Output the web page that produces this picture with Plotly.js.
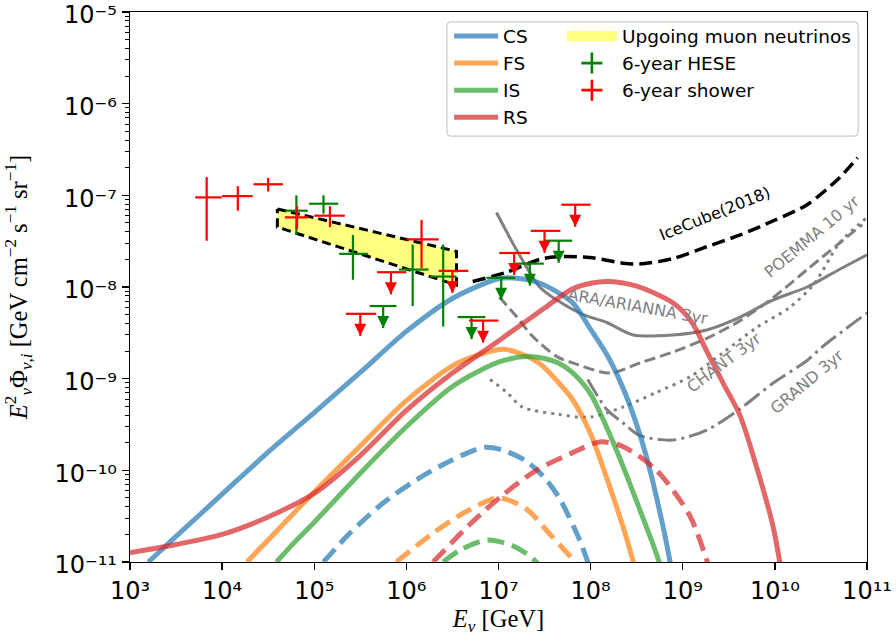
<!DOCTYPE html>
<html><head><meta charset="utf-8">
<script src="https://cdn.plot.ly/plotly-3.0.1.min.js"></script>
<style>body{margin:0;background:#fff}#chart{width:896px;height:642px}</style>
</head><body><div id="chart"></div>
<script>
// ---------- model curves (E in GeV, E^2 Phi in GeV cm^-2 s^-1 sr^-1) ----------
const csE    = [1.58e3, 3.16e3, 1e4, 3.16e4, 1e5, 3.16e5, 1e6, 3.16e6, 1e7, 1.585e7, 2.82e7, 6.31e7, 1e8, 1.585e8, 2.51e8, 3.98e8, 6.31e8, 7.4e8, 1e9];
const csFlux = [1.0e-11, 1.9e-11, 5.5e-11, 1.58e-10, 4.27e-10, 1.17e-9, 3.28e-9, 7.5e-9, 1.23e-8, 1.245e-8, 1.1e-8, 6.8e-9, 3.45e-9, 1.66e-9, 6.0e-10, 1.48e-10, 2.1e-11, 9.3e-12, 2e-12];

const fsE    = [1.86e4, 3.16e4, 1e5, 3.16e5, 1e6, 3.16e6, 6.31e6, 1.12e7, 1.78e7, 2.82e7, 4.47e7, 6.31e7, 1e8, 1.48e8, 2.24e8, 2.82e8, 3.16e8];
const fsFlux = [1e-11, 1.74e-11, 5.8e-11, 1.84e-10, 5.75e-10, 1.38e-9, 1.84e-9, 2.09e-9, 1.86e-9, 1.45e-9, 9.1e-10, 6.0e-10, 2.5e-10, 8.5e-11, 2.45e-11, 1.12e-11, 7.1e-12];

const isE    = [3.89e4, 6.31e4, 1e5, 3.16e5, 1e6, 3.16e6, 6.31e6, 1.12e7, 2.0e7, 3.16e7, 4.47e7, 6.31e7, 1e8, 1.48e8, 2.24e8, 3.39e8, 5.01e8, 5.62e8, 6.31e8];
const isFlux = [1e-11, 1.7e-11, 2.72e-11, 9.3e-11, 2.99e-10, 8.2e-10, 1.23e-9, 1.57e-9, 1.74e-9, 1.66e-9, 1.48e-9, 1.17e-9, 6.8e-10, 3.0e-10, 1.12e-10, 3.8e-11, 1.35e-11, 9.5e-12, 6.3e-12];

const rsE    = [1e3, 3.16e3, 1e4, 3.16e4, 1e5, 3.16e5, 1e6, 3.16e6, 1e7, 3.16e7, 6.31e7, 1e8, 1.585e8, 3.16e8, 7.94e8, 1.26e9, 1.82e9, 2.75e9, 4.17e9, 6.31e9, 9.55e9, 1.12e10, 1.26e10];
const rsFlux = [1.26e-11, 1.55e-11, 2.0e-11, 3.1e-11, 5.6e-11, 1.45e-10, 4.5e-10, 1.15e-9, 2.58e-9, 5.9e-9, 9.5e-9, 1.1e-8, 1.15e-8, 1.02e-8, 6.65e-9, 4.1e-9, 2.0e-9, 8.9e-10, 4.0e-10, 1.1e-10, 2.45e-11, 1.05e-11, 5e-12];

const csDashE    = [1.26e5, 2.44e5, 5.6e5, 1.29e6, 2.95e6, 6.9e6, 1.12e7, 2.0e7, 3.16e7, 4.57e7, 7.6e7, 9.3e7, 1.12e8];
const csDashFlux = [1e-11, 2.07e-11, 4.4e-11, 7.9e-11, 1.26e-10, 1.78e-10, 1.66e-10, 1.26e-10, 8.3e-11, 5.0e-11, 1.74e-11, 1e-11, 5.6e-12];
const fsDashE    = [7.8e5, 1.95e6, 4.47e6, 1e7, 2.0e7, 3.63e7, 6.76e7, 7.94e7];
const fsDashFlux = [1e-11, 2.07e-11, 3.55e-11, 5.0e-11, 3.8e-11, 2.0e-11, 1e-11, 7.9e-12];
const isDashE    = [2.51e6, 3.98e6, 7.6e6, 1.41e7, 2.09e7, 2.57e7, 3.16e7];
const isDashFlux = [1e-11, 1.38e-11, 1.74e-11, 1.51e-11, 1.2e-11, 1e-11, 7.9e-12];
const rsDashE    = [1.95e6, 5.0e6, 1.12e7, 2.57e7, 6.3e7, 1.26e8, 2.24e8, 5.2e8, 1.2e9, 1.82e9, 2.0e9];
const rsDashFlux = [1e-11, 2.63e-11, 5.4e-11, 1e-10, 1.55e-10, 2.04e-10, 1.82e-10, 1.0e-10, 3.16e-11, 1.05e-11, 7.9e-12];

// ---------- sensitivities ----------
const icE    = [5.25e6, 1.23e7, 2.8e7, 4.3e7, 9.8e7, 2.24e8, 3.4e8, 7.8e8, 1.82e9, 4.2e9, 9.5e9, 2.24e10, 5.0e10, 7.9e10];
const icFlux = [1.15e-8, 1.45e-8, 2.0e-8, 2.14e-8, 2.1e-8, 1.82e-8, 1.78e-8, 2.04e-8, 2.75e-8, 3.7e-8, 5.25e-8, 7.9e-8, 1.55e-7, 2.57e-7];
const araE    = [9.5e6, 1.585e7, 2.8e7, 4.3e7, 8.3e7, 1.5e8, 2.9e8, 7.8e8, 1.82e9, 4.2e9, 9.5e9, 2.24e10, 5.0e10, 1e11];
const araFlux = [6.5e-8, 2.5e-8, 1e-8, 7.2e-9, 5.0e-9, 4.1e-9, 3.0e-9, 3.0e-9, 3.4e-9, 4.7e-9, 7.2e-9, 1e-8, 1.55e-8, 2.24e-8];
const poemmaE    = [1.02e7, 1.585e7, 2.34e7, 4.3e7, 6.5e7, 1.62e8, 3.4e8, 7.8e8, 1.82e9, 4.2e9, 9.5e9, 2.24e10, 5.0e10, 8.9e10];
const poemmaFlux = [7.8e-9, 4.7e-9, 2.9e-9, 1.74e-9, 1.48e-9, 1.15e-9, 1.48e-9, 1.95e-9, 2.75e-9, 4.3e-9, 7.6e-9, 1.55e-8, 3.0e-8, 4.8e-8];
const chantE    = [8.1e6, 1.23e7, 1.82e7, 4.3e7, 9.8e7, 2.24e8, 5.2e8, 1.2e9, 2.7e9, 6.3e9, 1.45e10, 2.7e10, 5.0e10, 1e11];
const chantFlux = [9.8e-10, 7.1e-10, 4.9e-10, 4.1e-10, 3.8e-10, 4.9e-10, 7.1e-10, 1.05e-9, 1.9e-9, 3.6e-9, 6.0e-9, 1.1e-8, 3.0e-8, 5.75e-8];
const grandE    = [9.3e7, 1.5e8, 2.24e8, 3.4e8, 7.8e8, 1.82e9, 4.2e9, 9.5e9, 2.24e10, 3.3e10, 1e11];
const grandFlux = [9.8e-10, 4.6e-10, 3.3e-10, 2.4e-10, 2.14e-10, 2.75e-10, 4.7e-10, 8.9e-10, 1.58e-9, 2.24e-9, 5.2e-9];

// upgoing muon neutrino band (closed polygon)
const bandE    = [3.98e4, 3.5e6, 3.5e6, 3.98e4, 3.98e4];
const bandFlux = [7.1e-8, 2.45e-8, 1.05e-8, 4.5e-8, 7.1e-8];

// ---------- 6-year HESE (green) ----------
const heseE    = [6.4e4, 1.26e5, 2.63e5, 1.17e6, 2.51e6];
const heseElo  = [4.79e4, 8.8e4, 1.86e5, 8.3e5, 1.8e6];
const heseEhi  = [8.5e4, 1.82e5, 3.85e5, 1.74e6, 3.5e6];
const heseF    = [6.8e-8, 8.1e-8, 2.3e-8, 1.55e-8, 1.3e-8];
const heseFlo  = [3.7e-8, 6.3e-8, 1.2e-8, 6.2e-9, 3.7e-9];
const heseFhi  = [1.0e-7, 1.0e-7, 3.7e-8, 2.9e-8, 2.9e-8];
const heseUlE   = [5.6e5, 5.1e6, 1.07e7, 2.19e7, 4.5e7];
const heseUlElo = [4.0e5, 3.6e6, 7.4e6, 1.55e7, 3.1e7];
const heseUlEhi = [7.8e5, 7.2e6, 1.51e7, 3.1e7, 6.3e7];
const heseUlF   = [6.2e-9, 4.7e-9, 1.26e-8, 1.8e-8, 3.2e-8];

// ---------- 6-year shower (red) ----------
const shE    = [6.8e3, 1.48e4, 3.16e4, 6.5e4, 1.48e5, 1.46e6];
const shElo  = [5.1e3, 1.0e4, 2.19e4, 4.8e4, 1.0e5, 1.0e6];
const shEhi  = [9.9e3, 2.14e4, 4.57e4, 8.6e4, 2.15e5, 2.24e6];
const shF    = [9.5e-8, 9.8e-8, 1.32e-7, 5.75e-8, 6.0e-8, 3.3e-8];
const shFlo  = [3.2e-8, 6.8e-8, 1.1e-7, 4.3e-8, 4.5e-8, 1.6e-8];
const shFhi  = [1.58e-7, 1.26e-7, 1.55e-7, 7.6e-8, 7.6e-8, 5.4e-8];
const shUlE   = [3.16e5, 6.8e5, 3.16e6, 6.8e6, 1.48e7, 3.16e7, 6.8e7];
const shUlElo = [2.2e5, 4.8e5, 2.24e6, 4.8e6, 1.02e7, 2.24e7, 4.8e7];
const shUlEhi = [4.7e5, 1.0e6, 4.7e6, 1.0e7, 2.2e7, 4.7e7, 1.0e8];
const shUlF   = [5.1e-9, 1.45e-8, 1.5e-8, 4.3e-9, 2.35e-8, 4.1e-8, 7.9e-8];

// ---------- ticks ----------
const xTickVals = [1e3, 1e4, 1e5, 1e6, 1e7, 1e8, 1e9, 1e10, 1e11];
const xTickText = ['10³','10⁴','10⁵','10⁶','10⁷','10⁸','10⁹','10¹⁰','10¹¹'];
const yTickVals = [1e-11, 1e-10, 1e-9, 1e-8, 1e-7, 1e-6, 1e-5];
const yTickText = ['10⁻¹¹','10⁻¹⁰','10⁻⁹','10⁻⁸','10⁻⁷','10⁻⁶','10⁻⁵'];

// ---------- styling ----------
const C = {cs:'#1f77b4', fs:'#ff7f0e', is:'#2ca02c', rs:'#d62728'};
const GRAY = '#808080';
const ARROW_FACTOR = 0.575;   // arrow tip of upper limits relative to the limit value

const traces = [];
function curve(x, y, color, dash, name, show, width, op) {
  return {type:'scatter', mode:'lines', x:x, y:y, name:name, showlegend:show, legend:'legend',
          line:{color:color, width:width||5, dash:dash||'solid', shape:'spline', smoothing:0.8},
          opacity: op===undefined ? 0.7 : op, hoverinfo:'skip'};
}
// band
traces.push({type:'scatter', mode:'lines', x:bandE, y:bandFlux, fill:'toself', fillcolor:'#ffff80',
  line:{width:0, color:'rgba(0,0,0,0)'}, showlegend:false, hoverinfo:'skip'});
traces.push({type:'scatter', mode:'lines', x:bandE, y:bandFlux, line:{color:'black', width:3, dash:'9px,5px'},
  showlegend:false, hoverinfo:'skip'});
// sensitivities
traces.push(curve(icE, icFlux, 'black', '13px,6px', 'IceCube', false, 3.5, 1));
traces.push(curve(araE, araFlux, GRAY, 'solid', 'ARA', false, 3, 1));
traces.push(curve(poemmaE, poemmaFlux, GRAY, '11px,5px', 'POEMMA', false, 3, 1));
traces.push(curve(chantE, chantFlux, GRAY, '3px,5px', 'CHANT', false, 3, 1));
traces.push(curve(grandE, grandFlux, GRAY, '19px,5px,3px,5px', 'GRAND', false, 3, 1));
// models
traces.push(curve(csE, csFlux, C.cs, 'solid', 'CS', true));
traces.push(curve(fsE, fsFlux, C.fs, 'solid', 'FS', true));
traces.push(curve(isE, isFlux, C.is, 'solid', 'IS', true));
traces.push(curve(rsE, rsFlux, C.rs, 'solid', 'RS', true));
const DASH = '17px,8px';
traces.push(curve(csDashE, csDashFlux, C.cs, DASH, 'CS dashed', false));
traces.push(curve(fsDashE, fsDashFlux, C.fs, DASH, 'FS dashed', false));
traces.push(curve(isDashE, isDashFlux, C.is, DASH, 'IS dashed', false));
traces.push(curve(rsDashE, rsDashFlux, C.rs, DASH, 'RS dashed', false));

function diff(a, b) { return a.map((v, i) => v - b[i]); }
function points(x, xlo, xhi, y, ylo, yhi, color) {
  const t = {type:'scatter', mode:'markers', x:x, y:y, showlegend:false, hoverinfo:'skip',
    marker:{size:1, color:'rgba(0,0,0,0)'},
    error_x:{type:'data', symmetric:false, array:diff(xhi, x), arrayminus:diff(x, xlo), color:color, thickness:2.2, width:0}};
  if (ylo) t.error_y = {type:'data', symmetric:false, array:diff(yhi, y), arrayminus:diff(y, ylo), color:color, thickness:2.2, width:0};
  return t;
}
function arrowTrace(E, F, color) {
  const tip = F.map(v => v * ARROW_FACTOR);
  return {type:'scatter', mode:'markers', x:E, y:tip, showlegend:false, hoverinfo:'skip',
    marker:{symbol:'arrow-down', size:12, color:color, line:{width:0}},
    error_y:{type:'data', symmetric:false, array:diff(F, tip), arrayminus:tip.map(() => 0), color:color, thickness:2.2, width:0}};
}
traces.push(points(heseE, heseElo, heseEhi, heseF, heseFlo, heseFhi, 'green'));
traces.push(points(heseUlE, heseUlElo, heseUlEhi, heseUlF, null, null, 'green'));
traces.push(arrowTrace(heseUlE, heseUlF, 'green'));
traces.push(points(shE, shElo, shEhi, shF, shFlo, shFhi, 'red'));
traces.push(points(shUlE, shUlElo, shUlEhi, shUlF, null, null, 'red'));
traces.push(arrowTrace(shUlE, shUlF, 'red'));
// legend-only entries
traces.push({type:'scatter', mode:'lines', x:[null], y:[null], name:'Upgoing muon neutrinos', legend:'legend2',
  line:{width:14, color:'#ffff80'}});
traces.push({type:'scatter', mode:'markers', x:[null], y:[null], name:'6-year HESE', legend:'legend2',
  marker:{symbol:'cross-thin', size:15, color:'green', line:{width:2.6, color:'green'}}});
traces.push({type:'scatter', mode:'markers', x:[null], y:[null], name:'6-year shower', legend:'legend2',
  marker:{symbol:'cross-thin', size:15, color:'red', line:{width:2.6, color:'red'}}});

// curve labels
const annotations = [];
const lblFont = {family:'DejaVu Sans', size:16, color:GRAY};
annotations.push({x:9.35, y:-7.20, xref:'x', yref:'y', text:'IceCube(2018)', showarrow:false, textangle:-22,
  font:{family:'DejaVu Sans', size:16, color:'black'}});
annotations.push({x:10.40, y:-7.45, xref:'x', yref:'y', text:'POEMMA 10 yr', showarrow:false, textangle:-40, font:lblFont});
annotations.push({x:8.51, y:-8.21, xref:'x', yref:'y', text:'ARA/ARIANNA 3yr', showarrow:false, textangle:10, font:lblFont});
annotations.push({x:9.445, y:-8.82, xref:'x', yref:'y', text:'CHANT 3yr', showarrow:false, textangle:-37, font:lblFont});
annotations.push({x:10.35, y:-9.03, xref:'x', yref:'y', text:'GRAND 3yr', showarrow:false, textangle:-40, font:lblFont});

// legend frame (rounded)
const fx0 = 0.430, fx1 = 0.988, fy0 = 0.7745, fy1 = 0.982, rx = 0.006, ry = 0.008;
const framePath = `M${fx0+rx},${fy0} L${fx1-rx},${fy0} Q${fx1},${fy0} ${fx1},${fy0+ry} L${fx1},${fy1-ry} Q${fx1},${fy1} ${fx1-rx},${fy1} L${fx0+rx},${fy1} Q${fx0},${fy1} ${fx0},${fy1-ry} L${fx0},${fy0+ry} Q${fx0},${fy0} ${fx0+rx},${fy0} Z`;

const minorY = [];
for (let k = -11; k < -5; k++) for (let m = 2; m <= 9; m++) minorY.push(m * Math.pow(10, k));

const tickFont = {family:'DejaVu Sans', size:24, color:'black'};
const titleFont = {family:'Liberation Serif', size:24.5, color:'black'};
const legFont = {family:'DejaVu Sans', size:18.5, color:'black'};
const layout = {
  width:896, height:642,
  margin:{l:130, r:29, t:12, b:80},
  paper_bgcolor:'white', plot_bgcolor:'white',
  xaxis:{type:'log', range:[3, 11], tickmode:'array', tickvals:xTickVals, ticktext:xTickText,
    showline:true, linecolor:'black', linewidth:1.3, mirror:true, ticks:'outside', ticklen:7, tickwidth:1.3, tickcolor:'black',
    showgrid:false, zeroline:false, tickfont:tickFont, ticklabeloverflow:'allow',
    title:{text:'<i>E</i><sub><i>ν</i></sub> [GeV]', font:titleFont, standoff:5}},
  yaxis:{type:'log', range:[-11, -5], tickmode:'array', tickvals:yTickVals, ticktext:yTickText,
    showline:true, linecolor:'black', linewidth:1.3, mirror:true, ticks:'outside', ticklen:7, tickwidth:1.3, tickcolor:'black',
    showgrid:false, zeroline:false, tickfont:tickFont, ticklabeloverflow:'allow', ticklabelshift:3,
    minor:{tickmode:'array', tickvals:minorY, ticks:'outside', ticklen:4, tickwidth:1, tickcolor:'black', showgrid:false},
    title:{text:'<i>E</i><sup>2</sup><sub><i>ν</i></sub>Φ<sub><i>ν</i>,<i>i</i></sub> [GeV cm<sup>−2</sup> s<sup>−1</sup> sr<sup>−1</sup>]', font:titleFont, standoff:20}},
  legend:{x:0.433, y:0.990, xanchor:'left', yanchor:'top', bgcolor:'rgba(0,0,0,0)', borderwidth:0,
    font:legFont, itemwidth:44, tracegroupgap:0},
  legend2:{x:0.586, y:0.990, xanchor:'left', yanchor:'top', bgcolor:'rgba(0,0,0,0)', borderwidth:0,
    font:legFont, itemwidth:50, tracegroupgap:0},
  shapes:[{type:'path', xref:'paper', yref:'paper', path:framePath, fillcolor:'rgba(255,255,255,0.8)',
    line:{color:'#cccccc', width:1.2}, layer:'above'}],
  annotations:annotations,
  showlegend:true
};
Plotly.newPlot('chart', traces, layout, {displayModeBar:false, staticPlot:true});
</script></body></html>
